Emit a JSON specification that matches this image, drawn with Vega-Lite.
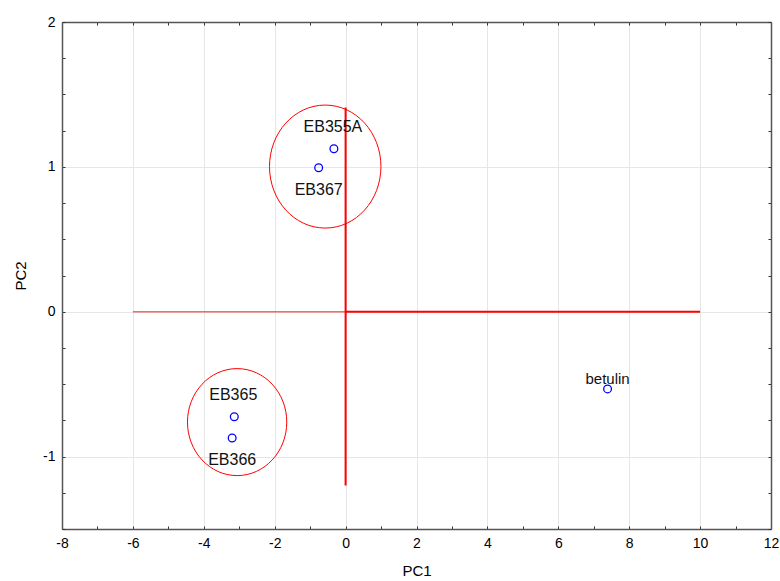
{
  "$schema": "https://vega.github.io/schema/vega-lite/v6.json",
  "width": 709,
  "height": 507,
  "autosize": {"type": "none"},
  "padding": {"left": 62, "top": 22, "right": 9, "bottom": 52},
  "background": "white",
  "config": {
    "view": {"stroke": null},
    "font": "Liberation Sans",
    "axis": {
      "labelFont": "Liberation Sans",
      "titleFont": "Liberation Sans",
      "labelFontSize": 14,
      "titleFontSize": 15,
      "titleFontWeight": "normal",
      "labelColor": "#000",
      "titleColor": "#000",
      "domainColor": "#555",
      "domainWidth": 1.5,
      "tickColor": "#333",
      "tickWidth": 1,
      "tickSize": -3,
      "gridColor": "#e6e6e6",
      "gridWidth": 1
    }
  },
  "datasets": {
    "pts": [
      {"name": "EB355A", "PC1": -0.33, "PC2": 1.125},
      {"name": "EB367", "PC1": -0.76, "PC2": 0.994},
      {"name": "EB365", "PC1": -3.14, "PC2": -0.725},
      {"name": "EB366", "PC1": -3.2, "PC2": -0.872},
      {"name": "betulin", "PC1": 7.39, "PC2": -0.533}
    ],
    "hseg": [
      {"part": "left", "x": -6, "x2": 0, "y": 0},
      {"part": "right", "x": 0, "x2": 10, "y": 0}
    ],
    "vseg": [
      {"x": 0, "y": -1.2, "y2": 1.41}
    ],
    "ell": [
      {"group": "A", "cx": -0.575, "cy": 1.002},
      {"group": "B", "cx": -3.06, "cy": -0.762}
    ]
  },
  "resolve": {"axis": {"x": "independent", "y": "independent"}},
  "layer": [
    {
      "data": {"name": "pts"},
      "mark": {"type": "point", "opacity": 0},
      "encoding": {
        "x": {
          "field": "PC1", "type": "quantitative",
          "scale": {"domain": [-8, 12], "nice": false, "zero": false},
          "axis": {
            "orient": "bottom",
            "title": "PC1",
            "values": [-8,-7,-6,-5,-4,-3,-2,-1,0,1,2,3,4,5,6,7,8,9,10,11,12],
            "labelExpr": "abs(datum.value % 2) == 1 ? '' : '' + datum.value",
            "grid": true,
            "gridOpacity": {"condition": {"test": "abs(datum.value % 2) == 1", "value": 0}, "value": 1},
            "labelPadding": 10,
            "titlePadding": 13,
            "labelFlush": false,
            "labelOverlap": false
          }
        },
        "y": {
          "field": "PC2", "type": "quantitative",
          "scale": {"domain": [-1.5, 2], "nice": false, "zero": false},
          "axis": {
            "orient": "left",
            "title": "PC2",
            "values": [-1.5,-1.25,-1,-0.75,-0.5,-0.25,0,0.25,0.5,0.75,1,1.25,1.5,1.75,2],
            "labelExpr": "datum.value % 1 != 0 ? '' : '' + datum.value",
            "grid": true,
            "gridOpacity": {"condition": {"test": "datum.value % 1 != 0", "value": 0}, "value": 1},
            "labelPadding": 10,
            "titlePadding": 14,
            "labelFlush": false,
            "labelOverlap": false
          }
        }
      }
    },
    {
      "data": {"name": "pts"},
      "mark": {"type": "point", "opacity": 0},
      "encoding": {
        "x": {
          "field": "PC1", "type": "quantitative",
          "axis": {
            "orient": "top", "title": null, "labels": false, "grid": false,
            "values": [-8,-7,-6,-5,-4,-3,-2,-1,0,1,2,3,4,5,6,7,8,9,10,11,12]
          }
        },
        "y": {
          "field": "PC2", "type": "quantitative",
          "axis": {
            "orient": "right", "title": null, "labels": false, "grid": false,
            "values": [-1.5,-1.25,-1,-0.75,-0.5,-0.25,0,0.25,0.5,0.75,1,1.25,1.5,1.75,2]
          }
        }
      }
    },
    {
      "data": {"name": "hseg"},
      "transform": [{"filter": "datum.part == 'left'"}],
      "mark": {"type": "rule", "color": "#ff0000", "strokeWidth": 1.5, "opacity": 0.6},
      "encoding": {
        "x": {"field": "x", "type": "quantitative", "axis": null},
        "x2": {"field": "x2"},
        "y": {"field": "y", "type": "quantitative", "axis": null}
      }
    },
    {
      "data": {"name": "hseg"},
      "transform": [{"filter": "datum.part == 'right'"}],
      "mark": {"type": "rule", "color": "#ff0000", "strokeWidth": 2},
      "encoding": {
        "x": {"field": "x", "type": "quantitative", "axis": null},
        "x2": {"field": "x2"},
        "y": {"field": "y", "type": "quantitative", "axis": null}
      }
    },
    {
      "data": {"name": "vseg"},
      "mark": {"type": "rule", "color": "#ff0000", "strokeWidth": 2},
      "encoding": {
        "x": {"field": "x", "type": "quantitative", "axis": null},
        "y": {"field": "y", "type": "quantitative", "axis": null},
        "y2": {"field": "y2"}
      }
    },
    {
      "data": {"name": "ell"},
      "transform": [{"filter": "datum.group == 'A'"}],
      "mark": {
        "type": "point", "filled": false, "color": "#ff0000", "strokeWidth": 1, "opacity": 1,
        "shape": "M -0.906 0 A 0.906 1 0 1 0 0.906 0 A 0.906 1 0 1 0 -0.906 0 Z",
        "size": 15129
      },
      "encoding": {
        "x": {"field": "cx", "type": "quantitative", "axis": null},
        "y": {"field": "cy", "type": "quantitative", "axis": null}
      }
    },
    {
      "data": {"name": "ell"},
      "transform": [{"filter": "datum.group == 'B'"}],
      "mark": {
        "type": "point", "filled": false, "color": "#ff0000", "strokeWidth": 1, "opacity": 1,
        "shape": "M -0.928 0 A 0.928 1 0 1 0 0.928 0 A 0.928 1 0 1 0 -0.928 0 Z",
        "size": 11449
      },
      "encoding": {
        "x": {"field": "cx", "type": "quantitative", "axis": null},
        "y": {"field": "cy", "type": "quantitative", "axis": null}
      }
    },
    {
      "data": {"name": "pts"},
      "mark": {"type": "point", "filled": false, "color": "#0000ff", "strokeWidth": 1.3, "size": 60, "opacity": 1},
      "encoding": {
        "x": {"field": "PC1", "type": "quantitative", "axis": null},
        "y": {"field": "PC2", "type": "quantitative", "axis": null}
      }
    },
    {
      "data": {"name": "pts"},
      "transform": [{"filter": "datum.name == 'EB355A' || datum.name == 'EB365'"}],
      "mark": {"type": "text", "fontSize": 16, "font": "Liberation Sans", "color": "#111", "baseline": "middle", "dy": -22, "dx": -1},
      "encoding": {
        "x": {"field": "PC1", "type": "quantitative", "axis": null},
        "y": {"field": "PC2", "type": "quantitative", "axis": null},
        "text": {"field": "name"}
      }
    },
    {
      "data": {"name": "pts"},
      "transform": [{"filter": "datum.name == 'EB367' || datum.name == 'EB366'"}],
      "mark": {"type": "text", "fontSize": 16, "font": "Liberation Sans", "color": "#111", "baseline": "middle", "dy": 22, "dx": 0},
      "encoding": {
        "x": {"field": "PC1", "type": "quantitative", "axis": null},
        "y": {"field": "PC2", "type": "quantitative", "axis": null},
        "text": {"field": "name"}
      }
    },
    {
      "data": {"name": "pts"},
      "transform": [{"filter": "datum.name == 'betulin'"}],
      "mark": {"type": "text", "fontSize": 15, "font": "Liberation Sans", "color": "#111", "baseline": "middle", "dy": -10, "dx": 0},
      "encoding": {
        "x": {"field": "PC1", "type": "quantitative", "axis": null},
        "y": {"field": "PC2", "type": "quantitative", "axis": null},
        "text": {"field": "name"}
      }
    }
  ]
}
